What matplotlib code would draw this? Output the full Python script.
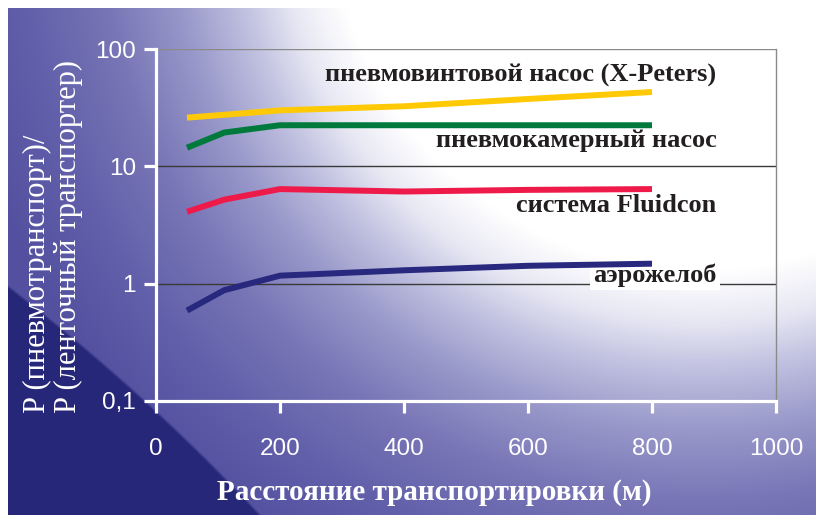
import numpy as np
import matplotlib
matplotlib.use("Agg")
import matplotlib.pyplot as plt

# ---- data ----
distance = [50, 110, 200, 400, 600, 800]
screw_pump = [26, 27.5, 30, 32.5, 37.5, 43]        # пневмовинтовой насос (X-Peters)
chamber_pump = [14.4, 19.4, 22.4, 22.4, 22.4, 22.4]  # пневмокамерный насос
fluidcon = [4.1, 5.2, 6.4, 6.1, 6.3, 6.4]            # система Fluidcon
air_slide = [0.59, 0.88, 1.17, 1.3, 1.42, 1.48]      # аэрожелоб

series_labels = ["пневмовинтовой насос (X-Peters)", "пневмокамерный насос",
                 "система Fluidcon", "аэрожелоб"]
label_y = [60, 16.7, 4.6, 1.19]
y_ticks = [0.1, 1, 10, 100]
y_ticklabels = ["0,1", "1", "10", "100"]
x_ticks = [0, 200, 400, 600, 800, 1000]
x_label = "Расстояние транспортировки (м)"
y_label1 = "P (пневмотранспорт)/"
y_label2 = "P (ленточный транспортер)"

colors = ["#FFCA05", "#007A3C", "#EE1B4A", "#27287E"]

W, H = 816, 515
fig = plt.figure(figsize=(W / 100, H / 100), dpi=100)
fig.patch.set_facecolor("white")

# ---- background gradient ----
bx0, by0 = 8, 8
yy, xx = np.mgrid[by0:H, bx0:W].astype(float)
d = np.sqrt((xx - 700) ** 2 + (yy + 100) ** 2)
st = [0, 370, 420, 470, 530, 600, 680, 760, 2000]
cR = [255, 255, 232, 192, 152, 120, 98, 84, 80]
cG = [255, 255, 232, 192, 152, 118, 96, 82, 78]
cB = [255, 255, 244, 224, 202, 182, 170, 160, 155]
img = np.dstack([np.interp(d, st, cR), np.interp(d, st, cG), np.interp(d, st, cB)])
dn = np.sqrt((xx + 1256.5) ** 2 + (yy - 1931.5) ** 2) - 2075
navy = np.array([39, 39, 122], float)
m = np.clip((dn + 1.5) / 3.0, 0, 1)[..., None]
img = img * m + navy * (1 - m)
img = img / 255.0
bg = fig.add_axes([bx0 / W, 0, (W - bx0) / W, (H - by0) / H])
bg.imshow(img, aspect="auto", interpolation="bilinear")
bg.set_axis_off()
bg.set_zorder(0)

# ---- main axes ----
L, Rr, T, Bt = 156, 776, 49, 401
ax = fig.add_axes([L / W, (H - Bt) / H, (Rr - L) / W, (Bt - T) / H])
ax.set_zorder(1)
ax.patch.set_alpha(0)
ax.set_yscale("log")
ax.set_xlim(0, 1000)
ax.set_ylim(0.1, 100)

for yv in [1, 10]:
    ax.axhline(yv, color="#3a3a3a", lw=1.0, zorder=1)
ax.axhline(100, color="#8a8a8a", lw=1.0, zorder=1)

for vals, c in zip([screw_pump, chamber_pump, fluidcon, air_slide], colors):
    ax.plot(distance, vals, color=c, lw=4.3, solid_capstyle="butt",
            solid_joinstyle="miter", zorder=3)

for lab, yv in zip(series_labels, label_y):
    kw = {}
    if lab == "аэрожелоб":
        kw["bbox"] = dict(boxstyle="square,pad=0.12", fc="white", ec="none")
    ax.text(904, yv, lab, ha="right", va="center", fontsize=19,
            fontweight="bold", family=["Liberation Serif", "DejaVu Serif"],
            color="#231f20", zorder=2, **kw)

ax.spines["top"].set_visible(False)
ax.spines["right"].set_color("#8a8a8a")
ax.spines["right"].set_linewidth(1.0)
for sp in ["left", "bottom"]:
    ax.spines[sp].set_color("white")
    ax.spines[sp].set_linewidth(2.3)
    ax.spines[sp].set_zorder(5)

ax.set_yticks(y_ticks)
ax.set_yticklabels(y_ticklabels)
ax.minorticks_off()
ax.set_xticks(x_ticks)
ax.set_xticklabels([str(v) for v in x_ticks])
ax.tick_params(axis="both", colors="white", width=2.3, length=8.5)
ax.tick_params(axis="y", pad=6)
ax.tick_params(axis="x", pad=18)
for t in ax.get_xticklabels() + ax.get_yticklabels():
    t.set_fontfamily(["Liberation Sans", "DejaVu Sans"])
    t.set_fontsize(17.5)
    t.set_color("white")

fig.text(434 / W, 1 - 492 / H, x_label, ha="center", va="center",
         fontsize=21, fontweight="bold",
         family=["Liberation Serif", "DejaVu Serif"], color="white")
fig.text(37 / W, 1 - 413 / H, y_label1, rotation=90, ha="center", va="bottom",
         fontsize=22, family=["Liberation Serif", "DejaVu Serif"], color="white")
fig.text(68 / W, 1 - 413 / H, y_label2, rotation=90, ha="center", va="bottom",
         fontsize=22, family=["Liberation Serif", "DejaVu Serif"], color="white")

fig.savefig("out.png", dpi=100, facecolor="white")
